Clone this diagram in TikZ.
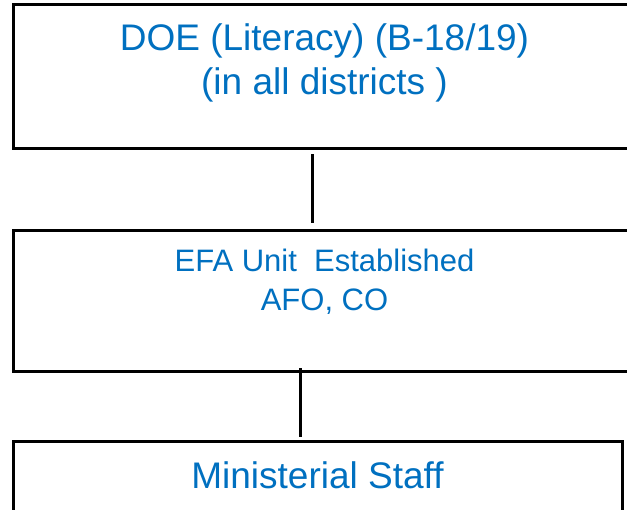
\documentclass[tikz,border=0pt]{standalone}
\usepackage{fontspec}
\setmainfont{Liberation Sans}
\definecolor{txtblue}{RGB}{0,112,192}
\tikzset{
  box/.style={draw=black, line width=3pt, fill=white, inner sep=0pt},
  conn/.style={draw=black, line width=3pt},
  bigtxt/.style={text=txtblue, inner sep=0pt, anchor=base, font=\fontsize{37}{44}\selectfont},
  midtxt/.style={text=txtblue, inner sep=0pt, anchor=base, font=\fontsize{31}{38}\selectfont}
}
\begin{document}
\begin{tikzpicture}[x=1pt,y=-1pt]
\useasboundingbox (0,0) rectangle (627,510);
\clip (0,0) rectangle (627,510);
\fill[white] (0,0) rectangle (627,510);
\node[box, minimum width=623pt, minimum height=144pt] (b1) at (324.5,77) {};
\node[box, minimum width=623pt, minimum height=141pt] (b2) at (324.5,301.5) {};
\node[box, minimum width=609pt, minimum height=141pt] (b3) at (317.5,512.5) {};
\node[bigtxt] (t1a) at (324.5,51) {DOE (Literacy) (B-18/19)};
\node[bigtxt] (t1b) at (324.5,94.5) {(in all districts )};
\node[midtxt] (t2a) at (324.5,272) {EFA Unit\ \ Established};
\node[midtxt] (t2b) at (324.5,311) {AFO, CO};
\node[bigtxt] (t3) at (317.5,488.5) {Ministerial Staff};
\draw[conn] ([shift={(-12.5,4)}]b1.south) -- ([shift={(-12.5,-6)}]b2.north);
\draw[conn] ([shift={(-24.5,-5)}]b2.south) -- ([shift={(-17.5,-3)}]b3.north);
\end{tikzpicture}
\end{document}
